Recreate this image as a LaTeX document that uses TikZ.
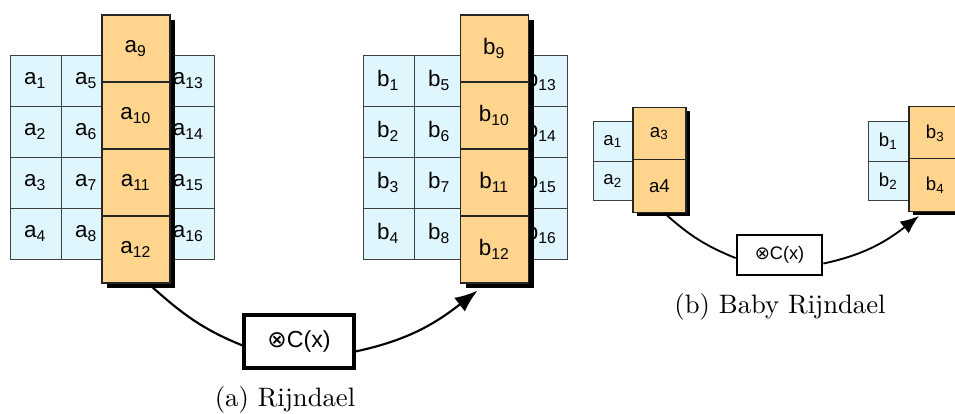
\documentclass[tikz,border=0pt]{standalone}
\usepackage{fontspec}
\newfontfamily\cellfont{Liberation Sans}
\newfontfamily\opfont{DejaVu Sans}
\usetikzlibrary{positioning, arrows.meta, calc}

\definecolor{stateblue}{HTML}{E0F6FE}
\definecolor{keyorange}{HTML}{FFD48C}

\tikzset{
  cell/.style={draw=black!75, line width=0.35pt, fill=stateblue, inner sep=0pt,
    minimum width=19.1pt, minimum height=19.1pt, font=\cellfont\fontsize{8.4}{9}\selectfont},
  key/.style={draw=black!85, line width=0.5pt, fill=keyorange, inner sep=0pt,
    minimum width=25.5pt, minimum height=25.1pt, font=\cellfont\fontsize{8.4}{9}\selectfont},
  smallcell/.style={cell, minimum width=15pt, minimum height=14.8pt, font=\cellfont\fontsize{7}{8}\selectfont},
  smallkey/.style={key, minimum width=19.9pt, minimum height=19.7pt, font=\cellfont\fontsize{7}{8}\selectfont},
  opbox/.style={draw, line width=1.2pt, fill=white, minimum width=41.2pt, minimum height=19.9pt,
    font=\cellfont\fontsize{8.7}{10}\selectfont},
  smallop/.style={opbox, line width=1pt, minimum width=31.9pt, minimum height=15pt,
    font=\cellfont\fontsize{6.8}{8}\selectfont},
  flow/.style={line width=0.8pt},
  smallflow/.style={line width=0.7pt},
  caption/.style={font=\normalfont}
}

\begin{document}
\begin{tikzpicture}[x=0.375pt, y=0.375pt]
  \useasboundingbox (0,0) rectangle (955,-414);
  \clip (0,0) rectangle (955,-414);

  % state a and state b, columns 1, 2 and 4
  \foreach \c/\x in {0/35.5, 1/86.5, 3/188.5}
    \foreach \r in {1,...,4}{
      \pgfmathtruncatemacro\k{4*\c+\r}
      \node[cell] (a\k) at (\x,{-29.5-51*\r}) {a\textsubscript{\k}};
      \node[cell] (b\k) at ({\x+353},{-29.5-51*\r}) {b\textsubscript{\k}};
    }

  % shifted third column with its shadow
  \fill (107,-20) rectangle (175,-288);
  \fill (466,-20) rectangle (534,-288);
  \foreach \r in {1,...,4}{
    \pgfmathtruncatemacro\k{8+\r}
    \node[key] (a\k) at (136,{-48.5-67*(\r-1)}) {a\textsubscript{\k}};
    \node[key] (b\k) at (494.5,{-48.5-67*(\r-1)}) {b\textsubscript{\k}};
  }

  % baby version
  \node[smallcell] (sa1) at (613,-141.5) {a\textsubscript{1}};
  \node[smallcell] (sa2) at (613,-181) {a\textsubscript{2}};
  \fill (637,-111) rectangle (690,-216);
  \node[smallkey] (sa3) at (659.5,-133.5) {a\textsubscript{3}};
  \node[smallkey] (sa4) at (659.5,-186) {a4};

  \node[smallcell] (sb1) at (888.5,-141.5) {b\textsubscript{1}};
  \node[smallcell] (sb2) at (888.5,-181) {b\textsubscript{2}};
  \fill (913,-111) rectangle (966,-215);
  \node[smallkey] (sb3) at (935.5,-133) {b\textsubscript{3}};
  \node[smallkey] (sb4) at (935.5,-185) {b\textsubscript{4}};

  % mix columns
  \node[opbox] (opA) at (299,-341.5) {{\opfont ⊗}C(x)};
  \node[smallop] (opB) at (779.5,-255) {{\opfont ⊗}C(x)};
  \coordinate (inA) at ($(b12.south)+(-17,-7)$);
  \coordinate (inB) at ($(sb4.south)+(-16.5,-4)$);

  \draw[flow] (a12.-70) to[out=-42,in=158] (opA.-176);
  \draw[flow, -{Latex[length=8.5pt,width=6.5pt]}] (opA.-10) to[out=12,in=-142] (inA);
  \draw[smallflow] (sa4.-80) to[out=-42,in=158] (opB.-176);
  \draw[smallflow, -{Latex[length=7pt,width=5.6pt]}] (opB.-11) to[out=12,in=-142] (inB);

  \node[caption] (capA) at (285,-400) {(a) Rijndael};
  \node[caption] (capB) at (780,-307) {(b) Baby Rijndael};
\end{tikzpicture}
\end{document}
